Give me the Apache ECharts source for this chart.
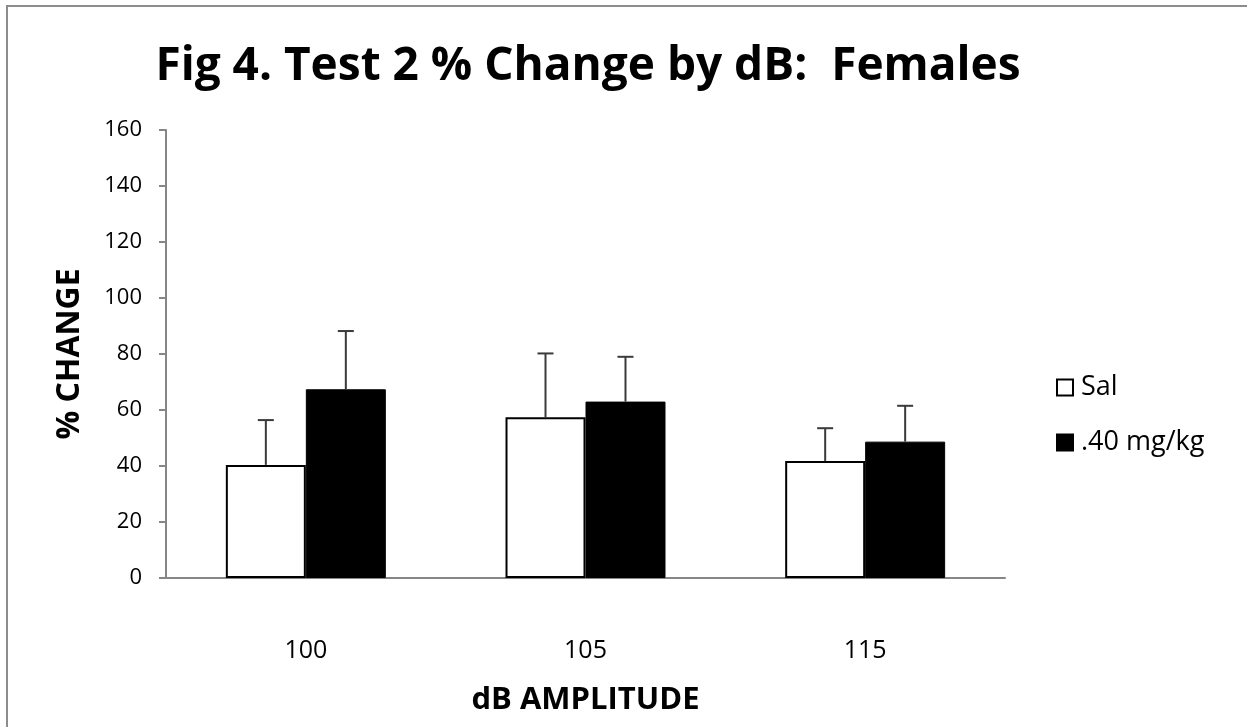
<!DOCTYPE html>
<html>
<head>
<meta charset="utf-8">
<script src="https://cdn.jsdelivr.net/npm/echarts@6/dist/echarts.min.js"></script>
<style>html,body{margin:0;padding:0;background:#fff}#c{width:1247px;height:727px}</style>
</head>
<body>
<div id="c"></div>
<script>
const categories = ['100', '105', '115'];
const seriesNames = ['Sal', '.40 mg/kg'];
const salValues = [40.4, 57.4, 41.8];
const drugValues = [67.4, 63.0, 48.7];
const salErr = [16.0, 22.8, 11.7];
const drugErr = [20.8, 16.0, 12.8];
const yTicks = [0, 20, 40, 60, 80, 100, 120, 140, 160];

const FONT = '"Open Sans"';
const BAR_FRAC = 0.286;

function errSeries(values, errs, side) {
  return {
    type: 'custom',
    silent: true,
    z: 5,
    data: values.map((v, i) => [i, v, v + errs[i]]),
    renderItem: function (params, api) {
      const band = api.size([1, 0])[0];
      const off = side * band * BAR_FRAC / 2;
      const base = api.coord([api.value(0), api.value(1)]);
      const top = api.coord([api.value(0), api.value(2)]);
      const x = base[0] + off;
      const cap = 8;
      return {
        type: 'group',
        children: [
          { type: 'line', shape: { x1: x, y1: base[1], x2: x, y2: top[1] }, style: { stroke: '#3a3a3a', lineWidth: 2 } },
          { type: 'line', shape: { x1: x - cap, y1: top[1], x2: x + cap, y2: top[1] }, style: { stroke: '#3a3a3a', lineWidth: 2 } }
        ]
      };
    }
  };
}

const chart = echarts.init(document.getElementById('c'));
chart.setOption({
  backgroundColor: '#fff',
  animation: false,
  title: {
    text: 'Fig 4. Test 2 % Change by dB:  Females',
    left: 583, top: 39, textAlign: 'center',
    textStyle: { fontFamily: FONT, fontWeight: 'bold', fontSize: 46, color: '#000' }
  },
  graphic: [{
    type: 'rect', shape: { x: 7, y: 6, width: 1260, height: 740 },
    style: { fill: 'none', stroke: '#8c8c8c', lineWidth: 2 }, silent: true
  }],
  legend: {
    orient: 'vertical', left: 1056, top: 374, padding: 0,
    itemWidth: 16, itemHeight: 16, itemGap: 28,
    icon: 'rect',
    textStyle: { fontFamily: FONT, fontSize: 27, color: '#000', padding: [0, 0, 0, 3] },
    data: seriesNames
  },
  grid: { left: 166, right: 242, top: 130, bottom: 149 },
  xAxis: {
    type: 'category', data: categories,
    name: 'dB AMPLITUDE', nameLocation: 'middle', nameGap: 107,
    nameMoveOverlap: false,
    nameTextStyle: { fontFamily: FONT, fontWeight: 'bold', fontSize: 31, color: '#000' },
    axisLine: { lineStyle: { color: '#868686', width: 2 } },
    axisTick: { show: false },
    axisLabel: { fontFamily: FONT, fontSize: 25, color: '#000', margin: 60 }
  },
  yAxis: {
    type: 'value', min: 0, max: 160, interval: 20,
    name: '% CHANGE', nameLocation: 'middle', nameGap: 80,
    nameMoveOverlap: false,
    nameTextStyle: { fontFamily: FONT, fontWeight: 'bold', fontSize: 32, color: '#000' },
    axisLine: { show: true, lineStyle: { color: '#868686', width: 2 } },
    axisTick: { show: true, length: 7, lineStyle: { color: '#868686', width: 2 } },
    splitLine: { show: false },
    axisLabel: { fontFamily: FONT, fontSize: 22, color: '#000', margin: 24,
      formatter: v => yTicks.includes(v) ? String(v) : '' }
  },
  series: [
    { name: seriesNames[0], type: 'bar', data: salValues, barWidth: (BAR_FRAC * 100) + '%', barGap: '0%',
      itemStyle: { color: '#fff', borderColor: '#000', borderWidth: 2 } },
    { name: seriesNames[1], type: 'bar', data: drugValues, barWidth: (BAR_FRAC * 100) + '%', barGap: '0%',
      itemStyle: { color: '#000', borderColor: '#000', borderWidth: 1 } },
    errSeries(salValues, salErr, -1),
    errSeries(drugValues, drugErr, 1)
  ]
});
</script>
</body>
</html>
